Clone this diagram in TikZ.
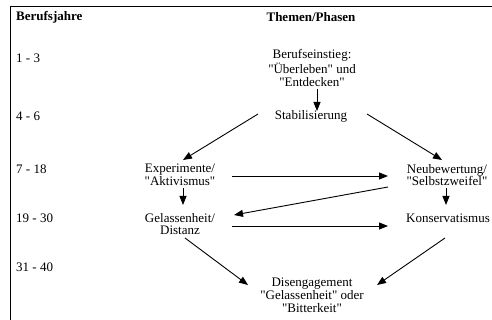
\documentclass[tikz,border=0pt]{standalone}
\usepackage{fontspec}
\setmainfont{Liberation Serif}[Ligatures=TeXOff]
\usetikzlibrary{arrows.meta,calc}
\begin{document}
\begin{tikzpicture}[x=1pt,y=1pt,
  txt/.style={inner sep=0pt,align=center,font=\fontsize{13}{12.8}\selectfont},
  yr/.style={inner sep=0pt,anchor=west,font=\fontsize{13}{12.8}\selectfont},
  hdr/.style={inner sep=0pt,font=\fontsize{13}{12.8}\selectfont\bfseries},
  arr/.style={line width=0.9pt,-{Triangle[length=9pt,width=7pt]}},
  frame/.style={line width=1.3pt}]
\useasboundingbox (0,0) rectangle (492,-320);
\fill[white] (0,0) rectangle (492,-320);
\coordinate (tl) at (10.5,-6.5);
\coordinate (tr) at (492,-6.5);
\coordinate (bl) at (10.5,-320);
\draw[frame] (tr) -- (tl) -- (bl);
% headers
\node[hdr,anchor=west] (hL) at (16,-17) {Berufsjahre};
\node[hdr] (hR) at (311,-17) {Themen/Phasen};
% years
\node[yr] (y1) at (16,-58) {1 - 3};
\node[yr] (y2) at (16,-116) {4 - 6};
\node[yr] (y3) at (16,-169) {7 - 18};
\node[yr] (y4) at (16,-218) {19 - 30};
\node[yr] (y5) at (16,-267) {31 - 40};
% phases
\node[txt] (beruf) at (312,-68) {Berufseinstieg:\\"Überleben" und\\"Entdecken"};
\node[txt] (stab) at (311,-116) {Stabilisierung};
\node[txt] (exp) at (180,-175) {Experimente/\\"Aktivismus"};
\node[txt] (neu) at (447,-175) {Neubewertung/\\"Selbstzweifel"};
\node[txt] (gel) at (180,-224) {Gelassenheit/\\Distanz};
\node[txt] (kon) at (448,-218) {Konservatismus};
\node[txt] (dis) at (312,-295) {Disengagement\\"Gelassenheit" oder\\"Bitterkeit"};
% connectors
\draw[arr] ($(beruf)+(5,-21)$) -- ($(stab)+(6,5)$);
\draw[arr] ($(stab)+(-53,2)$) -- ($(exp)+(3,15)$);
\draw[arr] ($(stab)+(56,2)$) -- ($(neu)+(-5,15)$);
\draw[arr] ($(exp)+(52,-1)$) -- ($(neu)+(-59,-1)$);
\draw[arr] ($(neu)+(-59,-12)$) -- ($(gel)+(54,9)$);
\draw[arr] ($(exp)+(3,-13)$) -- ($(gel)+(3,19)$);
\draw[arr] ($(neu)+(-1,-13)$) -- ($(kon)+(-2,13)$);
\draw[arr] ($(gel)+(52,-2)$) -- ($(kon)+(-60,-8)$);
\draw[arr] ($(gel)+(5,-14)$) -- ($(dis)+(-64,10)$);
\draw[arr] ($(kon)+(-3,-20)$) -- ($(dis)+(65,10)$);
\end{tikzpicture}
\end{document}
